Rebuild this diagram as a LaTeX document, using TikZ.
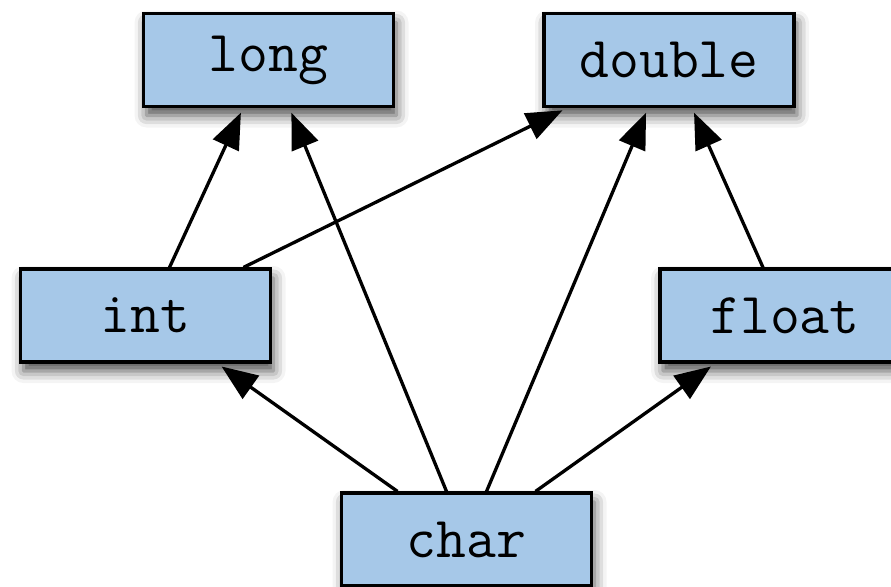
\documentclass[tikz,border=0pt]{standalone}
\usepackage{fontspec}
\usetikzlibrary{arrows.meta,shadows.blur}
\definecolor{boxblue}{RGB}{166,200,232}
\tikzset{
  typebox/.style={draw=black, line width=3.2pt, fill=boxblue, rectangle,
    minimum width=250pt, minimum height=93pt, inner sep=0pt,
    font=\ttfamily\fontsize{58}{58}\selectfont,
    blur shadow={shadow xshift=3pt, shadow yshift=-9pt, shadow blur radius=12pt, shadow opacity=70}},
  conv/.style={line width=3.3pt, -{Triangle[length=36pt,width=28pt]}, shorten >=5pt}
}
\begin{document}
\begin{tikzpicture}[x=1pt,y=-1pt]
\useasboundingbox (0,0) rectangle (891,586);
\node[typebox] (long) at (268.5,60) {long};
\node[typebox] (double) at (669,60) {double};
\node[typebox] (int) at (145.5,315.5) {int};
\node[typebox] (float) at (785,315.5) {float};
\node[typebox] (char) at (466.5,539.5) {char};
\draw[conv] ([xshift=24pt]int.north) -- ([xshift=-25.5pt]long.south);
\draw[conv] ([xshift=98pt]int.north) -- ([xshift=-102pt]double.south);
\draw[conv] ([xshift=-20pt]char.north) -- ([xshift=21pt]long.south);
\draw[conv] ([xshift=20pt]char.north) -- ([xshift=-21pt]double.south);
\draw[conv] ([xshift=-22pt]float.north) -- ([xshift=23pt]double.south);
\draw[conv] ([xshift=-69pt]char.north) -- ([xshift=72pt]int.south);
\draw[conv] ([xshift=69pt]char.north) -- ([xshift=-70pt]float.south);
\end{tikzpicture}
\end{document}
